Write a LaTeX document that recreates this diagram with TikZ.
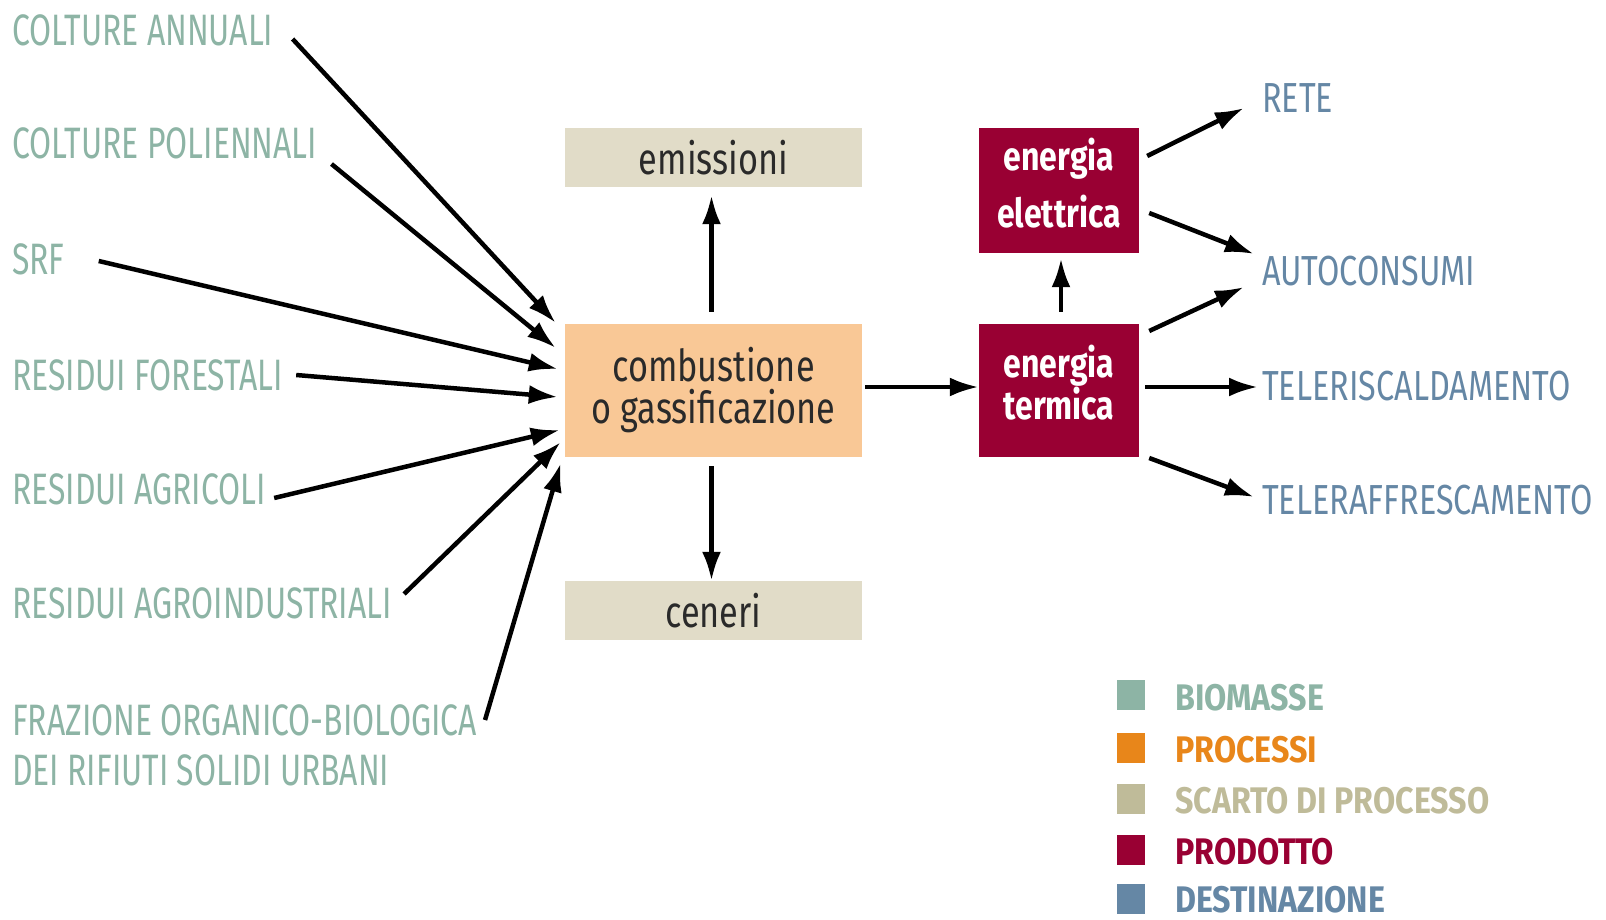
\documentclass[tikz,border=0pt]{standalone}
\usepackage{fontspec}
\setmainfont{Fira Sans}
\newfontfamily\labfont{Fira Sans}[FakeStretch=0.725]
\newfontfamily\destfont{Fira Sans}[FakeStretch=0.77]
\newfontfamily\boxfont{Fira Sans}[FakeStretch=0.78]
\newfontfamily\prodfont{Fira Sans}[FakeStretch=0.80]
\newfontfamily\legfont{Fira Sans}[FakeStretch=0.87]
\usetikzlibrary{arrows.meta,calc}
\definecolor{biocol}{HTML}{8DB4A5}
\definecolor{proccol}{HTML}{E8861A}
\definecolor{procfill}{HTML}{F9C896}
\definecolor{scartocol}{HTML}{BFBB99}
\definecolor{scartofill}{HTML}{E1DCC8}
\definecolor{prodcol}{HTML}{990033}
\definecolor{destcol}{HTML}{6587A5}
\definecolor{boxtext}{HTML}{2A2A2A}
\begin{document}
\begin{tikzpicture}[x=1pt,y=-1pt,
  biolab/.style={anchor=west,inner sep=0,text=biocol,font=\labfont\fontsize{44}{50}\selectfont},
  destlab/.style={anchor=west,inner sep=0,text=destcol,font=\destfont\fontsize{42}{48}\selectfont},
  scartobox/.style={fill=scartofill,minimum width=297pt,minimum height=59pt,inner sep=0,text=boxtext,font=\boxfont\fontsize{44}{50}\selectfont},
  procbox/.style={fill=procfill,minimum width=297pt,minimum height=133pt,inner sep=0,text=boxtext,align=center,font=\boxfont\fontsize{44}{42}\selectfont},
  prodbox/.style={fill=prodcol,minimum width=160pt,inner sep=0},
  prodtext/.style={inner sep=0,text=white,align=center,font=\prodfont\bfseries\fontsize{40}{41}\selectfont},
  legsq/.style={minimum width=28pt,minimum height=30pt,inner sep=0},
  leglab/.style={anchor=west,inner sep=0,font=\legfont\bfseries\fontsize{37}{40}\selectfont},
  arr/.style={line width=4.5pt,-{Latex[length=29pt,width=19pt]}}]
\useasboundingbox (0,0) rectangle (1606,920);

% biomass labels
\node[biolab] (ca) at (12,30) {COLTURE ANNUALI};
\node[biolab] (cp) at (12,143) {COLTURE POLIENNALI};
\node[biolab] (srf) at (12,259) {SRF};
\node[biolab] (rf) at (12,375) {RESIDUI FORESTALI};
\node[biolab] (ra) at (12,489) {RESIDUI AGRICOLI};
\node[biolab] (rai) at (12,603) {RESIDUI AGROINDUSTRIALI};
\node[biolab] (fr1) at (12,720) {FRAZIONE ORGANICO-BIOLOGICA};
\node[biolab] (fr2) at (12,770) {DEI RIFIUTI SOLIDI URBANI};

% process boxes
\node[scartobox] (emis) at (713.5,157.5) {emissioni};
\node[procbox] (comb) at (713.5,390.5) {combustione\\o gassificazione};
\node[scartobox] (cen) at (713.5,610.5) {ceneri};
\node[prodbox,minimum height=125pt] (elet) at (1059,190.5) {};
\node[prodtext] (elett) at (1059,183) {energia\\[15pt]elettrica};
\node[prodbox,minimum height=133pt] (term) at (1059,390.5) {};
\node[prodtext] (termt) at (1059,382.5) {energia\\termica};

% destinations
\node[destlab] (rete) at (1262,98) {RETE};
\node[destlab] (auto) at (1262,271) {AUTOCONSUMI};
\node[destlab] (tris) at (1262,386) {TELERISCALDAMENTO};
\node[destlab] (traf) at (1262,500) {TELERAFFRESCAMENTO};

% input arrows
\draw[arr] ($(ca.east)+(19,9)$) -- ($(comb.west)+(-9,-67.5)$);
\draw[arr] ($(cp.east)+(14,21)$) -- ($(comb.west)+(-9,-42.5)$);
\draw[arr] ($(srf.east)+(34,2)$) -- ($(comb.west)+(-7,-21.5)$);
\draw[arr] ($(rf.east)+(13,0)$) -- ($(comb.west)+(-7,6.5)$);
\draw[arr] ($(ra.east)+(8,9)$) -- ($(comb.west)+(-5,39.5)$);
\draw[arr] ($(rai.east)+(12,-9)$) -- ($(comb.west)+(-4,51.5)$);
\draw[arr] ($(fr1.east)+(8,0)$) -- ($(comb.west)+(-4,72.5)$);

% central arrows
\draw[arr] ($(comb.north)+(-2,-12)$) -- ($(emis.south)+(-2,8)$);
\draw[arr] ($(comb.south)+(-2,9)$) -- ($(cen.north)+(-2,0)$);
\draw[arr] ($(comb.east)+(3,-3.5)$) -- ($(term.west)+(0,-3.5)$);
\draw[arr] ($(term.north)+(2,-12)$) -- ($(elet.south)+(2,5)$);

% output arrows
\draw[arr] ($(elet.east)+(8,-34.5)$) -- ($(rete.west)+(-18,10)$);
\draw[arr] ($(elet.east)+(10,22.5)$) -- ($(auto.west)+(-8,-17)$);
\draw[arr] ($(term.east)+(10,-59.5)$) -- ($(auto.west)+(-18,16)$);
\draw[arr] ($(term.east)+(6,-3.5)$) -- ($(tris.west)+(-4,1)$);
\draw[arr] ($(term.east)+(10,67.5)$) -- ($(traf.west)+(-8,-3)$);

% legend
\node[legsq,fill=biocol] (sq1) at (1131,695) {};
\node[legsq,fill=proccol] (sq2) at (1131,748) {};
\node[legsq,fill=scartocol] (sq3) at (1131,799) {};
\node[legsq,fill=prodcol] (sq4) at (1131,850) {};
\node[legsq,fill=destcol] (sq5) at (1131,899) {};
\node[leglab,text=biocol] (l1) at (1175,698) {BIOMASSE};
\node[leglab,text=proccol] (l2) at (1175,750) {PROCESSI};
\node[leglab,text=scartocol] (l3) at (1175,801) {SCARTO DI PROCESSO};
\node[leglab,text=prodcol] (l4) at (1175,852) {PRODOTTO};
\node[leglab,text=destcol] (l5) at (1175,900) {DESTINAZIONE};
\end{tikzpicture}
\end{document}
